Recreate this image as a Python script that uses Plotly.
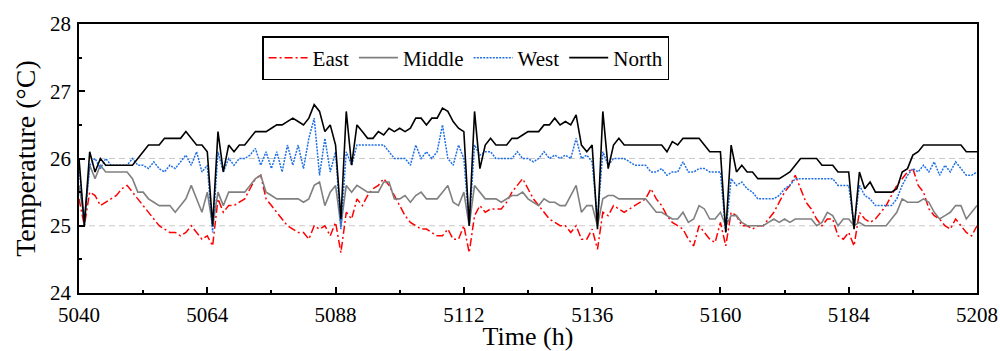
import plotly.graph_objects as go

hours = list(range(5040, 5209))

east = [
    25.4, 25.0, 25.5, 25.45, 25.3, 25.35, 25.4, 25.45, 25.55, 25.6,
    25.5, 25.4, 25.3, 25.2, 25.1, 25.0, 24.95, 24.9, 24.9, 24.85,
    24.9, 25.0, 24.9, 24.8, 24.85, 24.7, 25.4, 25.2, 25.3, 25.3,
    25.35, 25.4, 25.55, 25.7, 25.75, 25.4, 25.3, 25.2, 25.1, 25.0,
    24.95, 24.9, 24.9, 24.8, 25.0, 24.95, 25.0, 24.85, 25.05, 24.6,
    25.2, 25.1, 25.4, 25.3, 25.45, 25.55, 25.6, 25.7, 25.6, 25.45,
    25.3, 25.15, 25.05, 25.0, 24.95, 24.95, 24.9, 24.85, 24.85, 24.95,
    24.8, 24.8, 25.0, 24.6, 25.15, 25.3, 25.2, 25.25, 25.25, 25.25,
    25.35, 25.5, 25.6, 25.7, 25.55, 25.4, 25.3, 25.2, 25.1, 25.05,
    25.0, 25.0, 24.9, 25.0, 24.8, 24.8, 24.95, 24.65, 25.2, 25.15,
    25.3, 25.25, 25.2, 25.25, 25.3, 25.35, 25.4, 25.55, 25.4, 25.3,
    25.15, 25.05, 25.0, 24.95, 24.8, 24.7, 25.0, 24.9, 24.8, 24.75,
    25.05, 24.7, 25.2, 25.15, 25.0, 25.0, 24.95, 25.0, 25.0, 25.1,
    25.2, 25.35, 25.5, 25.6, 25.75, 25.55, 25.35, 25.25, 25.1, 25.0,
    25.1, 25.1, 24.85, 24.8, 24.9, 24.7, 25.2, 25.1, 25.05, 25.1,
    25.2, 25.3, 25.45, 25.6, 25.7, 25.8, 25.85, 25.6, 25.5, 25.25,
    25.15, 25.1, 25.0, 24.95, 25.1, 25.0, 24.9, 24.85, 25.0,
]

middle = [
    25.6, 25.1, 25.9, 25.7, 25.9, 25.8, 25.8, 25.8, 25.8, 25.8,
    25.7, 25.5, 25.5, 25.4, 25.35, 25.3, 25.3, 25.3, 25.2, 25.3,
    25.4, 25.6, 25.4, 25.2, 25.5, 25.0, 25.5, 25.3, 25.5, 25.5,
    25.5, 25.5, 25.6, 25.7, 25.75, 25.5, 25.45, 25.4, 25.4, 25.4,
    25.4, 25.4, 25.35, 25.4, 25.6, 25.65, 25.3, 25.5, 25.6, 25.0,
    25.6, 25.5, 25.6, 25.55, 25.5, 25.5, 25.5, 25.65, 25.65, 25.4,
    25.4, 25.45, 25.35, 25.45, 25.5, 25.4, 25.4, 25.4, 25.5, 25.6,
    25.35, 25.3, 25.5, 25.0, 25.6, 25.5, 25.4, 25.4, 25.4, 25.35,
    25.4, 25.45, 25.45, 25.5, 25.4, 25.35, 25.3, 25.4, 25.35, 25.35,
    25.3, 25.3, 25.45, 25.6, 25.2, 25.3, 25.3, 25.0, 25.4, 25.45,
    25.45, 25.4, 25.4, 25.4, 25.4, 25.4, 25.4, 25.3, 25.2, 25.2,
    25.15, 25.1, 25.1, 25.2, 25.05, 25.1, 25.3, 25.25, 25.1, 25.1,
    25.2, 25.0, 25.15, 25.15, 25.05, 25.0, 25.0, 25.0, 25.0, 25.05,
    25.1, 25.05, 25.1, 25.05, 25.1, 25.1, 25.1, 25.1, 25.0, 25.05,
    25.2, 25.15, 25.0, 25.1, 25.1, 25.0, 25.05, 25.0, 25.0, 25.0,
    25.0, 25.0, 25.1, 25.2, 25.4, 25.35, 25.35, 25.35, 25.4, 25.35,
    25.2, 25.1, 25.15, 25.2, 25.3, 25.3, 25.1, 25.2, 25.3,
]

west = [
    25.9, 25.0, 25.9, 26.0, 25.85, 26.0, 25.9, 25.9, 25.9, 25.9,
    26.0, 25.9, 25.9, 25.85, 25.95, 25.85, 25.8, 25.9, 25.85, 25.95,
    26.05, 25.9, 26.1, 25.8, 25.9, 24.9, 26.1, 25.8, 26.0, 25.9,
    26.0, 26.0, 26.05, 26.15, 25.9, 26.1, 25.85, 26.1, 25.8, 26.2,
    25.9, 26.2, 25.85, 26.3, 26.6, 25.75, 26.3, 25.8, 26.1, 24.95,
    26.1, 25.9, 26.2, 26.2, 26.2, 26.2, 26.2, 26.2, 26.1, 26.0,
    26.0, 26.0, 25.9, 26.2, 26.0, 26.1, 26.0, 26.1, 26.5, 26.0,
    25.9, 26.2, 26.0, 25.0, 26.2, 26.05, 26.1, 26.1, 26.0, 26.0,
    26.0, 26.0, 26.1, 26.0, 26.0, 25.95, 26.0, 26.1, 26.0, 26.05,
    26.0, 26.05, 26.0, 26.3, 26.0, 26.05, 25.95, 25.1, 26.1, 25.9,
    26.0, 26.0, 26.0, 25.95, 25.9, 25.9, 25.9, 25.8, 25.8, 25.85,
    25.75, 25.8, 25.8, 25.95, 25.8, 25.8, 25.85, 25.85, 25.8, 25.8,
    25.8, 24.9, 25.7, 25.6, 25.65, 25.55, 25.5, 25.4, 25.4, 25.4,
    25.4, 25.45, 25.55, 25.6, 25.7, 25.7, 25.7, 25.7, 25.7, 25.7,
    25.7, 25.7, 25.6, 25.6, 25.6, 25.0, 25.6, 25.45, 25.4, 25.3,
    25.3, 25.3, 25.3, 25.4, 25.6, 25.75, 25.85, 25.8, 25.9, 25.8,
    25.95, 25.75, 25.9, 25.8, 25.95, 25.85, 25.75, 25.75, 25.8,
]

north = [
    26.0, 25.0, 26.1, 25.8, 26.0, 25.9, 25.9, 25.9, 25.9, 25.9,
    25.9, 26.0, 26.1, 26.2, 26.2, 26.2, 26.3, 26.3, 26.3, 26.3,
    26.4, 26.3, 26.2, 26.2, 26.1, 25.0, 26.4, 25.8, 26.2, 26.1,
    26.2, 26.2, 26.3, 26.4, 26.4, 26.4, 26.45, 26.5, 26.5, 26.55,
    26.6, 26.55, 26.5, 26.6, 26.8, 26.7, 26.4, 26.5, 26.2, 25.1,
    26.7, 25.9, 26.5, 26.4, 26.3, 26.3, 26.4, 26.35, 26.45, 26.4,
    26.45, 26.4, 26.45, 26.6, 26.6, 26.5, 26.6, 26.6, 26.75, 26.7,
    26.55, 26.45, 26.4, 25.0, 26.7, 25.85, 26.2, 26.3, 26.2, 26.2,
    26.2, 26.3, 26.3, 26.35, 26.4, 26.4, 26.4, 26.5, 26.5, 26.6,
    26.5, 26.55, 26.5, 26.65, 26.2, 26.1, 26.2, 24.95, 26.7, 25.85,
    26.2, 26.3, 26.2, 26.2, 26.2, 26.2, 26.2, 26.2, 26.2, 26.2,
    26.1, 26.25, 26.2, 26.3, 26.3, 26.3, 26.3, 26.2, 26.1, 26.1,
    26.1, 24.9, 26.2, 25.8, 25.9, 25.8, 25.8, 25.7, 25.7, 25.7,
    25.7, 25.7, 25.75, 25.8, 25.9, 26.0, 26.0, 26.0, 26.0, 25.9,
    25.9, 25.9, 25.8, 25.8, 25.8, 24.95, 25.8, 25.55, 25.65, 25.5,
    25.5, 25.5, 25.5, 25.55, 25.8, 25.85, 26.05, 26.1, 26.2, 26.2,
    26.2, 26.2, 26.2, 26.2, 26.2, 26.2, 26.1, 26.1, 26.1,
]

series_names = ["East", "Middle", "West", "North"]
grid_levels = [25, 26]
x_ticks = [5040, 5064, 5088, 5112, 5136, 5160, 5184, 5208]
y_ticks = [24, 25, 26, 27, 28]

for s in (east, middle, west, north):
    assert len(s) == len(hours), len(s)

FONT = "Liberation Serif, Times New Roman, serif"

fig = go.Figure()
styles = [
    dict(color="#FF0000", width=1.5, dash="8px,3px,2px,3px"),
    dict(color="#808080", width=1.6, dash="solid"),
    dict(color="#1F6FE5", width=1.5, dash="2px,1.2px"),
    dict(color="#000000", width=1.6, dash="solid"),
]
for name, vals, st in zip(series_names, [east, middle, west, north], styles):
    fig.add_trace(go.Scatter(x=hours, y=vals, mode="lines", name=name, line=st))

for g in grid_levels:
    fig.add_hline(y=g, line=dict(color="#C8C8C8", width=1, dash="6px,4px"), layer="below")

fig.update_layout(
    width=1000, height=351,
    margin=dict(l=79, r=23, t=24, b=58, autoexpand=False),
    paper_bgcolor="white", plot_bgcolor="white",
    font=dict(family=FONT, size=21, color="black"),
    showlegend=True,
    legend=dict(
        orientation="h", x=0.204, y=0.955, xanchor="left", yanchor="top",
        bordercolor="black", borderwidth=1.4, bgcolor="white",
        font=dict(family=FONT, size=21), itemwidth=39,
        tracegroupgap=0,
    ),
)
fig.update_xaxes(
    range=[5040, 5208], tickvals=x_ticks, showgrid=False, zeroline=False,
    showline=True, linecolor="black", linewidth=1.8, mirror=True,
    ticks="inside", ticklen=6, tickwidth=1.5, tickcolor="black",
    minor=dict(ticks="inside", ticklen=3, tickwidth=1.5, dtick=12, tick0=5040, tickcolor="black"),
    title=dict(text="Time (h)", font=dict(family=FONT, size=26), standoff=0),
    tickfont=dict(family=FONT, size=21), ticklabelstandoff=2,
    automargin=False,
)
fig.update_yaxes(
    range=[24, 28], tickvals=y_ticks, showgrid=False, zeroline=False,
    showline=True, linecolor="black", linewidth=1.8, mirror=True,
    ticks="inside", ticklen=6, tickwidth=1.5, tickcolor="black",
    minor=dict(ticks="inside", ticklen=3, tickwidth=1.5, dtick=0.5, tick0=24, tickcolor="black"),
    title=dict(text="Temperature (°C)", font=dict(family=FONT, size=28), standoff=6),
    tickfont=dict(family=FONT, size=21), ticklabelstandoff=2,
    automargin=False,
)

fig.write_html("out.html")
